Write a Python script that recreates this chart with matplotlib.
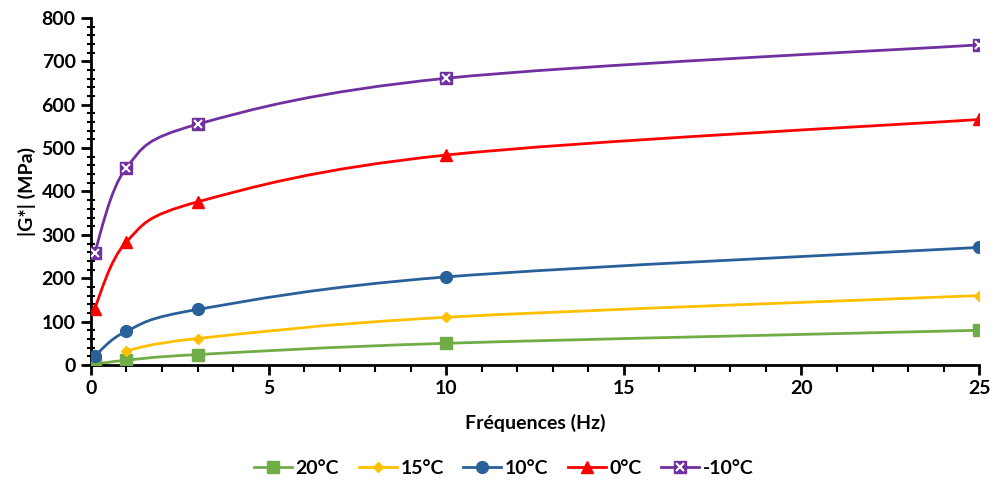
import numpy as np
import matplotlib
matplotlib.use("Agg")
import matplotlib.pyplot as plt
from matplotlib.path import Path
from matplotlib.patches import PathPatch
from matplotlib.ticker import MultipleLocator
from matplotlib.legend_handler import HandlerTuple

plt.rcParams['font.family'] = ['Lato', 'DejaVu Sans']

# --- data -------------------------------------------------------------
freq = [0.1, 1, 3, 10, 25]
freq_15 = [1, 3, 10, 25]

g_20 = [2, 11, 24, 50, 80]
g_15 = [33, 61, 110, 160]
g_10 = [20, 78, 128, 203, 271]
g_0 = [130, 284, 376, 484, 566]
g_m10 = [258, 455, 555, 661, 738]

labels = ['20°C', '15°C', '10°C', '0°C', '-10°C']
colors = ['#70AD47', '#FFC000', '#2A6099', '#FF0000', '#7030A0']


def smooth_path(x, y):
    """Excel-like smoothed line: cubic Bezier segments (Catmull-Rom control points)."""
    pts = np.column_stack([x, y]).astype(float)
    n = len(pts)
    verts = [pts[0]]
    codes = [Path.MOVETO]
    for i in range(n - 1):
        p0 = pts[i - 1] if i > 0 else pts[i]
        p1 = pts[i]
        p2 = pts[i + 1]
        p3 = pts[i + 2] if i + 2 < n else pts[i + 1]
        c1 = p1 + (p2 - p0) / 6.0
        c2 = p2 - (p3 - p1) / 6.0
        verts += [c1, c2, p2]
        codes += [Path.CURVE4] * 3
    return Path(verts, codes)


fig = plt.figure(figsize=(9.93, 4.86), dpi=100)
ax = fig.add_axes([0.0916, 0.249, 0.8944, 0.714])

series = [
    (freq, g_20, dict(marker='s', ms=8)),
    (freq_15, g_15, dict(marker='D', ms=5.5)),
    (freq, g_10, dict(marker='o', ms=8.5)),
    (freq, g_0, dict(marker='^', ms=8.5)),
    (freq, g_m10, dict(marker='s', ms=9)),
]

handles = []
for (x, y, mk), lab, col in zip(series, labels, colors):
    ax.add_patch(PathPatch(smooth_path(x, y), fill=False, edgecolor=col, lw=2, zorder=2))
    ax.plot(x, y, linestyle='none', color=col, mec=col, zorder=3, **mk)
    if lab == '-10°C':
        ax.plot(x, y, linestyle='none', marker='x', ms=6, mew=1.5, color='white', zorder=4)
    h, = ax.plot([], [], color=col, lw=2, mec=col, **mk)
    handles.append(h)

# white cross on top of the -10°C legend marker
hx, = ax.plot([], [], linestyle='none', marker='x', ms=6, mew=1.5, color='white')
handles[-1] = (handles[-1], hx)

ax.set_xlim(0, 25)
ax.set_ylim(0, 800)
ax.xaxis.set_major_locator(MultipleLocator(5))
ax.xaxis.set_minor_locator(MultipleLocator(1))
ax.yaxis.set_major_locator(MultipleLocator(100))
ax.yaxis.set_minor_locator(MultipleLocator(20))

for s in ['top', 'right']:
    ax.spines[s].set_visible(False)
for s in ['left', 'bottom']:
    ax.spines[s].set_linewidth(2)
    ax.spines[s].set_color('black')

ax.tick_params(axis='both', which='major', direction='out', length=7, width=2,
               labelsize=14, pad=4)
ax.tick_params(axis='x', which='minor', direction='out', length=5, width=1.5)
ax.tick_params(axis='y', which='minor', direction='inout', length=6, width=1.5)
for lbl in ax.get_xticklabels() + ax.get_yticklabels():
    lbl.set_fontweight('bold')

ax.set_xlabel('Fréquences (Hz)', fontsize=14, fontweight='bold', labelpad=12)
ax.set_ylabel('|G*| (MPa)', fontsize=14, fontweight='bold', labelpad=4)

ax.legend(handles, labels, loc='center', bbox_to_anchor=(0.465, -0.297),
          ncol=5, frameon=False, handlelength=1.95, columnspacing=1.0,
          handletextpad=0.2, prop={'weight': 'bold', 'size': 14},
          handler_map={tuple: HandlerTuple(ndivide=1, pad=0)})

fig.savefig('out.png', dpi=100)
